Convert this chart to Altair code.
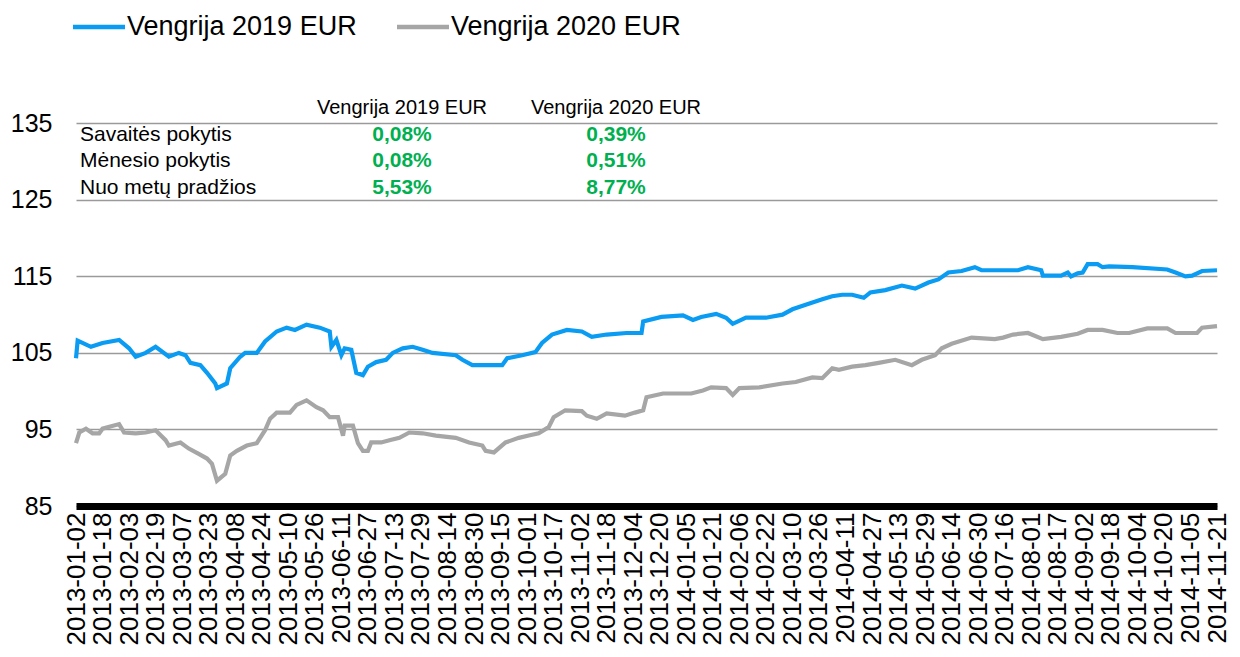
import altair as alt
import pandas as pd

# ---- data ----
series_names = ["Vengrija 2019 EUR", "Vengrija 2020 EUR"]
series_colors = ["#0A9BF2", "#A6A6A6"]

# days since 2013-01-02
blue_day = [0, 1, 9, 16, 26, 32, 36, 42, 48, 56, 62, 66, 69, 75, 79, 84, 85, 91, 93, 99,
            102, 109, 114, 121, 127, 132, 139, 147, 153, 154, 157, 160, 162, 166, 169, 173,
            176, 181, 187, 191, 197, 203, 209, 215, 229, 233, 239, 247, 257, 260, 269, 277,
            281, 287, 296, 305, 311, 320, 332, 341, 342, 353, 366, 372, 377, 386, 392, 396,
            404, 416, 426, 432, 440, 450, 456, 462, 468, 475, 479, 488, 498, 506, 514, 520,
            526, 534, 542, 546, 556, 568, 574, 582, 583, 594, 598, 600, 604, 607, 610, 616,
            619, 623, 637, 658, 663, 669, 673, 679, 688]
blue_val = [104.3, 106.6, 105.8, 106.3, 106.7, 105.6, 104.5, 105.0, 105.8, 104.5, 105.0, 104.7,
            103.7, 103.4, 102.4, 101.0, 100.4, 101.0, 103.0, 104.5, 105.0, 105.0, 106.5, 107.8,
            108.3, 108.0, 108.7, 108.3, 107.8, 105.8, 106.7, 104.7, 105.6, 105.4, 102.4, 102.1,
            103.2, 103.8, 104.1, 105.0, 105.6, 105.8, 105.4, 105.0, 104.7, 104.1, 103.4, 103.4,
            103.4, 104.3, 104.7, 105.1, 106.3, 107.4, 108.0, 107.8, 107.1, 107.4, 107.6, 107.6,
            109.1, 109.7, 109.9, 109.3, 109.7, 110.1, 109.6, 108.8, 109.6, 109.6, 110.0, 110.7,
            111.3, 112.0, 112.4, 112.6, 112.6, 112.2, 112.9, 113.2, 113.8, 113.4, 114.2, 114.6,
            115.5, 115.7, 116.2, 115.8, 115.8, 115.8, 116.2, 115.8, 115.1, 115.1, 115.5, 115.0,
            115.4, 115.5, 116.6, 116.6, 116.2, 116.3, 116.2, 115.9, 115.5, 115.0, 115.1, 115.7,
            115.8]

gray_day = [0, 2, 6, 10, 14, 16, 26, 29, 36, 42, 48, 54, 56, 63, 68, 74, 79, 82, 85, 90, 93,
            97, 103, 109, 114, 117, 121, 129, 133, 139, 145, 149, 153, 158, 161, 162, 167, 170,
            173, 176, 178, 184, 189, 195, 201, 209, 217, 229, 237, 245, 247, 252, 259, 267, 273,
            279, 285, 288, 295, 305, 308, 314, 320, 331, 337, 342, 344, 354, 365, 371, 378, 383,
            392, 396, 400, 412, 426, 434, 444, 450, 456, 460, 468, 476, 484, 494, 504, 510, 518,
            522, 528, 540, 554, 559, 565, 574, 583, 594, 604, 610, 619, 628, 635, 646, 658, 663,
            676, 679, 688]
gray_val = [93.2, 94.6, 95.1, 94.5, 94.5, 95.1, 95.7, 94.6, 94.5, 94.6, 94.9, 93.6, 92.9, 93.3,
            92.5, 91.8, 91.2, 90.5, 88.3, 89.2, 91.6, 92.2, 92.9, 93.2, 94.9, 96.4, 97.2, 97.2,
            98.2, 98.8, 97.9, 97.5, 96.6, 96.6, 94.2, 95.5, 95.5, 93.2, 92.2, 92.2, 93.3, 93.3,
            93.6, 93.9, 94.6, 94.5, 94.2, 93.9, 93.3, 92.9, 92.2, 92.0, 93.3, 93.9, 94.2, 94.5,
            95.3, 96.6, 97.5, 97.4, 96.8, 96.4, 97.1, 96.8, 97.2, 97.5, 99.2, 99.7, 99.7, 99.7,
            100.1, 100.5, 100.4, 99.5, 100.4, 100.5, 101.0, 101.2, 101.8, 101.7, 103.0, 102.8,
            103.2, 103.4, 103.7, 104.1, 103.4, 104.1, 104.7, 105.6, 106.2, 107.0, 106.8, 107.0,
            107.4, 107.6, 106.8, 107.1, 107.5, 108.0, 108.0, 107.6, 107.6, 108.2, 108.2, 107.6,
            107.6, 108.3, 108.5]

tick_labels = ["2013-01-02", "2013-01-18", "2013-02-03", "2013-02-19", "2013-03-07", "2013-03-23",
               "2013-04-08", "2013-04-24", "2013-05-10", "2013-05-26", "2013-06-11", "2013-06-27",
               "2013-07-13", "2013-07-29", "2013-08-14", "2013-08-30", "2013-09-15", "2013-10-01",
               "2013-10-17", "2013-11-02", "2013-11-18", "2013-12-04", "2013-12-20", "2014-01-05",
               "2014-01-21", "2014-02-06", "2014-02-22", "2014-03-10", "2014-03-26", "2014-04-11",
               "2014-04-27", "2014-05-13", "2014-05-29", "2014-06-14", "2014-06-30", "2014-07-16",
               "2014-08-01", "2014-08-17", "2014-09-02", "2014-09-18", "2014-10-04", "2014-10-20",
               "2014-11-05", "2014-11-21"]
y_ticks = [85, 95, 105, 115, 125, 135]

table_rows = ["Savaitės pokytis", "Mėnesio pokytis", "Nuo metų pradžios"]
table_2019 = ["0,08%", "0,08%", "5,53%"]
table_2020 = ["0,39%", "0,51%", "8,77%"]

# ---- build table ----
origin = pd.Timestamp("2013-01-02")
frames = []
for name, days, vals in [(series_names[0], blue_day, blue_val), (series_names[1], gray_day, gray_val)]:
    d = pd.DataFrame({"day": days, "value": vals})
    d["date"] = (origin + pd.to_timedelta(d["day"], unit="D")).dt.strftime("%Y-%m-%d")
    d["series"] = name
    frames.append(d)
df = pd.concat(frames, ignore_index=True)


def dt(s):
    y, m, dd = (int(p) for p in s.split("-"))
    return alt.DateTime(year=y, month=m, date=dd, utc=True)


FONT = "Liberation Sans"
W, H = 1141, 421

x_enc = alt.X(
    "date:T",
    scale=alt.Scale(type="utc", domain=[dt(tick_labels[0]), dt(tick_labels[-1])]),
    axis=alt.Axis(
        values=[dt(t) for t in tick_labels],
        labelExpr="utcFormat(datum.value, '%Y-%m-%d')",
        labelAngle=270, labelFontSize=26, labelColor="black", labelFont=FONT,
        labelPadding=6, labelOverlap=False, labelBound=False, labelFlush=False,
        ticks=False, grid=False, domainColor="black", domainWidth=7, title=None,
    ),
)
y_enc = alt.Y(
    "value:Q",
    scale=alt.Scale(domain=[85, 140], nice=False, zero=False),
    axis=alt.Axis(
        values=y_ticks, labelFontSize=25, labelColor="black", labelFont=FONT,
        labelPadding=24, ticks=False, domain=False, grid=True,
        gridColor="#9a9a9a", gridWidth=1.3, title=None,
    ),
)

lines = alt.Chart(df).mark_line(strokeWidth=4.2, interpolate="linear").encode(
    x=x_enc,
    y=y_enc,
    color=alt.Color(
        "series:N",
        scale=alt.Scale(domain=series_names, range=series_colors),
        legend=None,
    ),
    detail="series:N",
)

layers = [lines]

# custom legend (swatch line + label) above the plot
leg_x = [-3, 321]
leg_y = -58
for i, name in enumerate(series_names):
    layers.append(
        alt.Chart(pd.DataFrame({"t": [name]})).mark_rule(
            strokeWidth=4.5, color=series_colors[i]
        ).encode(x=alt.value(leg_x[i]), x2=alt.value(leg_x[i] + 52), y=alt.value(leg_y))
    )
    layers.append(
        alt.Chart(pd.DataFrame({"t": [name]})).mark_text(
            font=FONT, fontSize=27, color="black", align="left", baseline="middle"
        ).encode(text="t:N", x=alt.value(leg_x[i] + 54), y=alt.value(leg_y))
    )

col_x = [326, 540]
header_y = 23
row_y = [50, 76, 103]
for i, name in enumerate(series_names):
    layers.append(
        alt.Chart(pd.DataFrame({"t": [name]})).mark_text(
            font=FONT, fontSize=20, color="black", align="center", baseline="middle"
        ).encode(text="t:N", x=alt.value(col_x[i]), y=alt.value(header_y))
    )
for r, label in enumerate(table_rows):
    layers.append(
        alt.Chart(pd.DataFrame({"t": [label]})).mark_text(
            font=FONT, fontSize=21, color="black", align="left", baseline="middle"
        ).encode(text="t:N", x=alt.value(4), y=alt.value(row_y[r]))
    )
    for i, vals in enumerate([table_2019, table_2020]):
        layers.append(
            alt.Chart(pd.DataFrame({"t": [vals[r]]})).mark_text(
                font=FONT, fontSize=21, fontWeight="bold", color="#00B050",
                align="center", baseline="middle"
            ).encode(text="t:N", x=alt.value(col_x[i]), y=alt.value(row_y[r]))
        )

chart = alt.layer(*layers).properties(
    width=W, height=H,
    autosize=alt.AutoSizeParams(type="none"),
    padding={"left": 68, "top": 77, "right": 15, "bottom": 142},
).configure(font=FONT).configure_view(stroke=None, strokeWidth=0)

chart.save("out.html", embed_options={"renderer": "svg", "actions": False})
